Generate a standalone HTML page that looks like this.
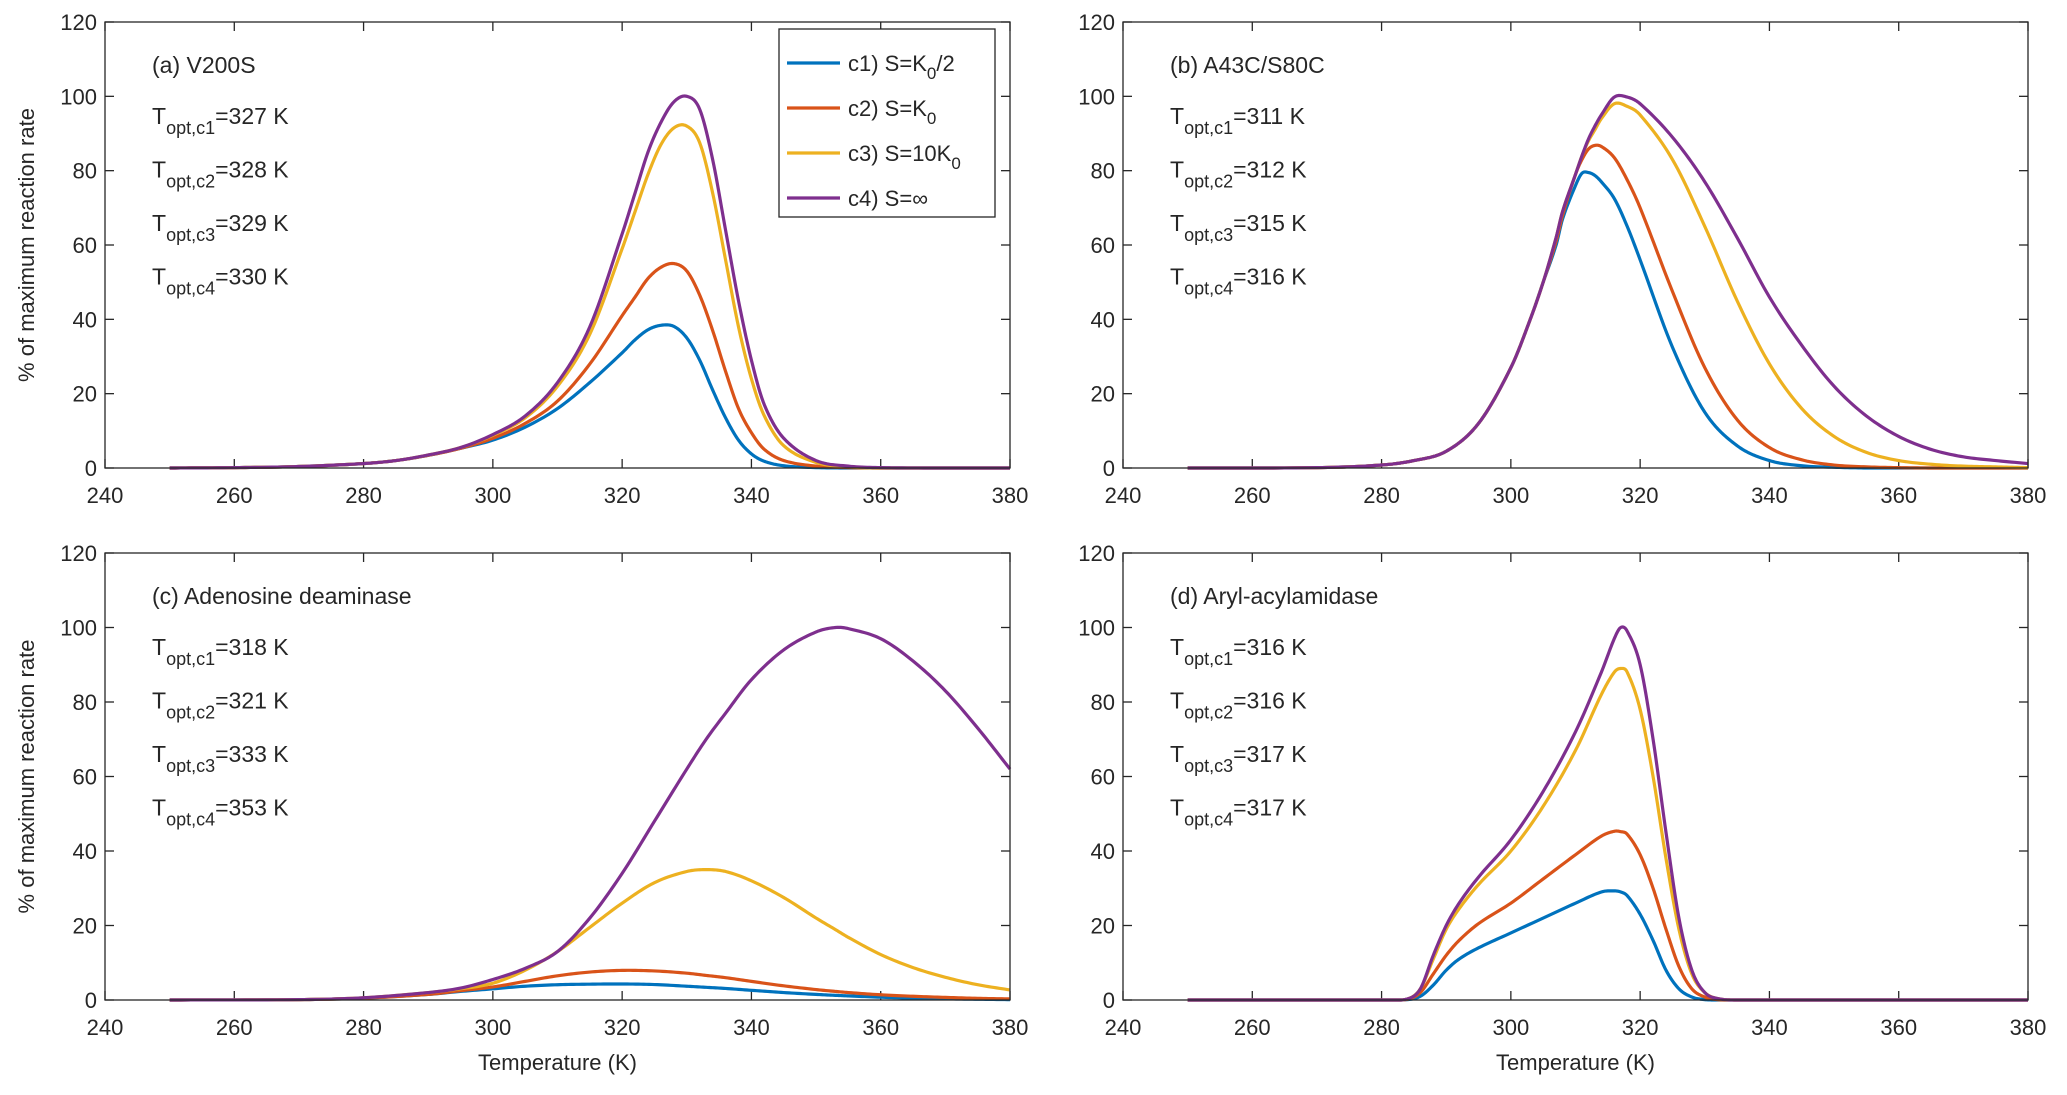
<!DOCTYPE html>
<html><head><meta charset="utf-8"><style>
html,body{margin:0;padding:0;background:#fff;}
svg text{font-family:"Liberation Sans",sans-serif;fill:#262626;}
</style></head><body>
<svg id="fig" width="2067" height="1090" xmlns="http://www.w3.org/2000/svg"></svg>
<script>
const xTicks=[240,260,280,300,320,340,360,380];
const yTicks=[0,20,40,60,80,100,120];
const colors=['#0072BD','#D95319','#EDB120','#7E2F8E'];
// Panel a
const aT1=[250,260,270,280,285,290,295,300,305,310,315,320,322,324,326,328,330,332,334,336,338,340,342,345,350,355,360,370,380];
const aV1=[0,0.1,0.4,1.2,2,3.4,5.3,7.5,11,16,23,31,34.5,37.2,38.4,38.1,35,29,21,13.5,7.5,3.8,1.8,0.6,0.1,0,0,0,0];
const aV2=[0,0.1,0.4,1.2,2,3.4,5.3,8,12,18,28,41,46,51,54,55,53,46.5,37,26,16,9.5,5,2,0.5,0.1,0,0,0];
const aV3=[0,0.1,0.4,1.2,2,3.5,5.5,8.8,13.5,22,36,59,69,79,87,91.5,92,87.5,74,56,38,24,14,6,1.5,0.3,0,0,0];
const aV4=[0,0.1,0.4,1.2,2,3.5,5.5,9,14,23,38,63,74,85,93,98.5,100,96.5,83,64,45,29,17,8,2,0.5,0.1,0,0];
// Panel b
const bT=[250,270,280,285,290,295,300,303,305,307,308,310,311,312,313,314,316,318,320,325,330,335,340,345,350,355,360,365,370,375,380];
const bV1=[0,0.1,0.8,2,4.5,12,27,40,50,60,67,76,79.3,79.5,78.7,77,72.5,65,56,32.5,15,6,2,0.6,0.2,0,0,0,0,0,0];
const bV2=[0,0.1,0.8,2,4.5,12,27,40,50,61,68,79,83,85.8,86.8,86.5,83.5,77.5,70,47.5,27,13,5.5,2.2,0.8,0.3,0.1,0,0,0,0];
const bV3=[0,0.1,0.8,2,4.5,12,27,40,50,62,69,79,84,88,91,94,98,97.3,95,83,65,45,28,16,8.5,4.2,2,1,0.5,0.3,0.1];
const bV4=[0,0.1,0.8,2,4.5,12,27,40,50,62,69,79,84,88.5,92,95,99.8,99.8,98,89,77,62,46,33,22,14,8.5,5,3,2,1.2];
// Panel c
const cT=[250,270,280,290,295,300,305,310,315,320,325,330,333,336,340,345,350,353,355,360,365,370,375,380];
const cV1=[0,0.1,0.5,1.5,2.3,3,3.7,4.1,4.25,4.3,4.15,3.7,3.4,3.1,2.6,2,1.5,1.25,1.1,0.75,0.5,0.32,0.2,0.1];
const cV2=[0,0.1,0.5,1.5,2.5,3.5,5,6.5,7.5,7.95,7.8,7.2,6.6,6,5,3.8,2.8,2.3,2,1.4,1,0.7,0.45,0.3];
const cV3=[0,0.1,0.6,2,3,4.5,8,13,19.5,26,31.5,34.5,35,34.5,32,27.5,22,18.9,16.8,12.2,8.7,6.1,4.1,2.7];
const cV4=[0,0.1,0.6,2,3.2,5.5,8.5,13,22,34,48,62,70,77,86,94,98.8,100,99.7,97,91,83,73,62];
// Panel d
const dT=[250,280,284,286,288,290,292,295,300,305,310,314,316,317,318,320,322,324,326,328,330,332,335,380];
const dV1=[0,0,0.1,1,4,8,11,14,18,22,26,29,29.3,29,28,23,16,8,3,0.8,0.1,0,0,0];
const dV2=[0,0,0.2,2,7,12,16,20.5,26,32.5,39,44,45.3,45.2,44.5,39,30,19,9,3,0.8,0.1,0,0];
const dV3=[0,0,0.3,3,11,19,24.5,31,40,52,67,82,88,89,88,78,60,38,19,7,2,0.4,0,0];
const dV4=[0,0,0.3,3,12,20,26,33,43,56,72,88,97,100,99,90,70,45,22,8,2,0.4,0,0];

const panels=[
 {id:'a',x0:105,x1:1010,y0:22,y1:468,title:'(a) V200S',tops:['327','328','329','330'],ylab:true,xlab:false,legend:true,
  series:[[aT1,aV1],[aT1,aV2],[aT1,aV3],[aT1,aV4]]},
 {id:'b',x0:1123,x1:2028,y0:22,y1:468,title:'(b) A43C/S80C',tops:['311','312','315','316'],ylab:false,xlab:false,
  series:[[bT,bV1],[bT,bV2],[bT,bV3],[bT,bV4]]},
 {id:'c',x0:105,x1:1010,y0:553,y1:1000,title:'(c) Adenosine deaminase',tops:['318','321','333','353'],ylab:true,xlab:true,
  series:[[cT,cV1],[cT,cV2],[cT,cV3],[cT,cV4]]},
 {id:'d',x0:1123,x1:2028,y0:553,y1:1000,title:'(d) Aryl-acylamidase',tops:['316','316','317','317'],ylab:false,xlab:true,
  series:[[dT,dV1],[dT,dV2],[dT,dV3],[dT,dV4]]}
];
const NS='http://www.w3.org/2000/svg';
const svg=document.getElementById('fig');
function mk(tag,attrs,parent){const e=document.createElementNS(NS,tag);for(const k in attrs)e.setAttribute(k,attrs[k]);(parent||svg).appendChild(e);return e;}
function smoothPts(ts,vs){
 const out=[];const n=ts.length;
 for(let i=0;i<n-1;i++){
  const t1=ts[i],t2=ts[i+1],v1=vs[i],v2=vs[i+1];
  const t0=i>0?ts[i-1]:2*t1-t2, v0=i>0?vs[i-1]:2*v1-v2;
  const t3=i<n-2?ts[i+2]:2*t2-t1, v3=i<n-2?vs[i+2]:2*v2-v1;
  const m1=(v2-v0)/(t2-t0)*(t2-t1), m2=(v3-v1)/(t3-t1)*(t2-t1);
  const N=12;
  for(let k=0;k<N;k++){
   const s=k/N,s2=s*s,s3=s2*s;
   let v=(2*s3-3*s2+1)*v1+(s3-2*s2+s)*m1+(-2*s3+3*s2)*v2+(s3-s2)*m2;
   out.push([t1+(t2-t1)*s,Math.max(0,v)]);
  }
 }
 out.push([ts[n-1],Math.max(0,vs[n-1])]);
 return out;
}
panels.forEach(P=>{
 const g=mk('g',{});
 
 
 const sx=v=>P.x0+(v-240)/(380-240)*(P.x1-P.x0);
 const sy=v=>P.y1-v/120*(P.y1-P.y0);
 xTicks.forEach(t=>{
  const x=sx(t);
  mk('line',{x1:x,x2:x,y1:P.y1,y2:P.y1-9,stroke:'#262626','stroke-width':1.3},g);
  mk('line',{x1:x,x2:x,y1:P.y0,y2:P.y0+9,stroke:'#262626','stroke-width':1.3},g);
  const tx=mk('text',{x:x,y:P.y1+35,'text-anchor':'middle','font-size':22},g);
  
  
  tx.textContent=t;
 });
 yTicks.forEach(t=>{
  const y=sy(t);
  mk('line',{x1:P.x0,x2:P.x0+9,y1:y,y2:y,stroke:'#262626','stroke-width':1.3},g);
  mk('line',{x1:P.x1,x2:P.x1-9,y1:y,y2:y,stroke:'#262626','stroke-width':1.3},g);
  const tx=mk('text',{x:P.x0-8,y:y+8,'text-anchor':'end','font-size':22},g);
  
  
  tx.textContent=t;
 });
 P.series.forEach((s,i)=>{
  const pts=smoothPts(s[0],s[1]);
  const d='M'+pts.map(p=>sx(p[0]).toFixed(2)+','+sy(p[1]).toFixed(2)).join(' L');
  const p=mk('path',{d:d,fill:'none',stroke:colors[i],'stroke-width':3.2,'stroke-linejoin':'round'},g);
  
  
 });
 mk('rect',{x:P.x0,y:P.y0,width:P.x1-P.x0,height:P.y1-P.y0,fill:'none',stroke:'#262626','stroke-width':1.3},g);
 const tt=mk('text',{x:P.x0+47,y:P.y0+51,'font-size':23},g);
 
 
 tt.textContent=P.title;
 P.tops.forEach((v,i)=>{
  const t=mk('text',{x:P.x0+47,y:P.y0+102+i*53.5,'font-size':23},g);
  
  
  t.innerHTML='T<tspan dy="10" font-size="18">opt,c'+(i+1)+'</tspan><tspan dy="-10">='+v+' K</tspan>';
 });
 if(P.ylab){
  const cy=(P.y0+P.y1)/2;
  const t=mk('text',{x:34,y:cy,'text-anchor':'middle','font-size':22,transform:'rotate(-90 34 '+cy+')'},g);
  
  
  t.textContent='% of maximum reaction rate';
 }
 if(P.xlab){
  const t=mk('text',{x:(P.x0+P.x1)/2,y:1070,'text-anchor':'middle','font-size':22},g);
  
  
  t.textContent='Temperature (K)';
 }
 if(P.legend){
  const lg=mk('g',{},g);
  
  
  mk('rect',{x:779,y:29,width:216,height:188,fill:'#fff',stroke:'#262626','stroke-width':1.3},lg);
  const labs=['c1) S=K<tspan dy="8" font-size="17">0</tspan><tspan dy="-8">/2</tspan>','c2) S=K<tspan dy="8" font-size="17">0</tspan>','c3) S=10K<tspan dy="8" font-size="17">0</tspan>','c4) S=∞'];
  labs.forEach((l,i)=>{
   const y=63+i*45;
   const e=mk('g',{},lg);
   
   
   mk('line',{x1:787,x2:840,y1:y,y2:y,stroke:colors[i],'stroke-width':3.2},e);
   const t=mk('text',{x:848,y:y+8,'font-size':22},e);
   t.innerHTML=l;
  });
 }
});
</script>
</body></html>
